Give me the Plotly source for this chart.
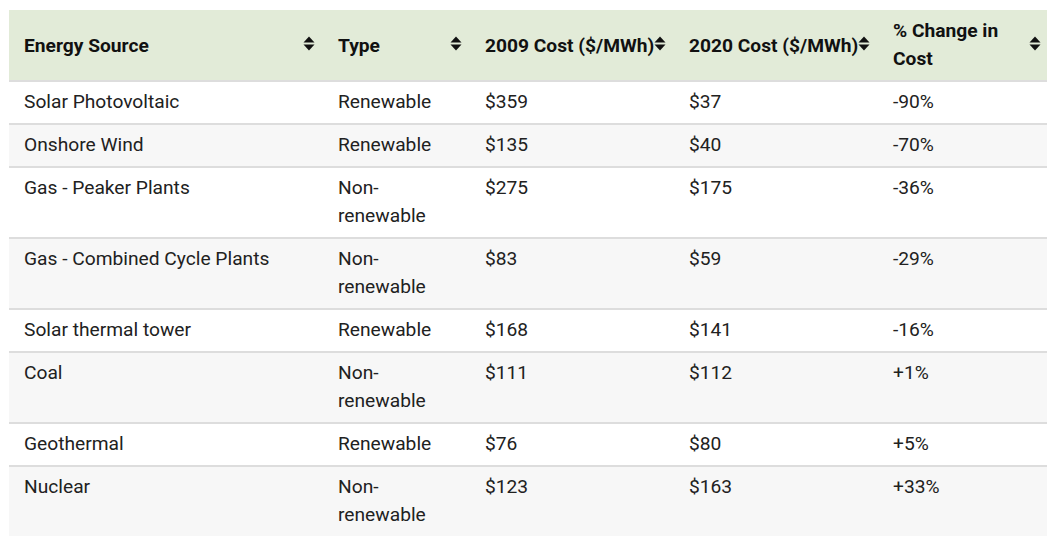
import plotly.graph_objects as go

# ---------------- data ----------------
sources = ["Solar Photovoltaic", "Onshore Wind", "Gas - Peaker Plants",
           "Gas - Combined Cycle Plants", "Solar thermal tower", "Coal",
           "Geothermal", "Nuclear"]
types = ["Renewable", "Renewable", "Non-renewable", "Non-renewable",
         "Renewable", "Non-renewable", "Renewable", "Non-renewable"]
cost_2009 = [359, 135, 275, 83, 168, 111, 76, 123]
cost_2020 = [37, 40, 175, 59, 141, 112, 80, 163]
pct_change = [-90, -70, -36, -29, -16, 1, 5, 33]
col_headers = ["Energy Source", "Type", "2009 Cost ($/MWh)",
               "2020 Cost ($/MWh)", "% Change in Cost"]

# ---------------- style ----------------
# the page body has an 8px margin, so the figure is 8px smaller than the window
W, H = 1048, 542
FONT = "Roboto, 'Open Sans', sans-serif"
TXT_PX = 19.2
LINE_PX = 28
BASE = LINE_PX / 1.3          # plotly line spacing is 1.3em of the base size
ASC, DESC = 0.9277, 0.2441    # Roboto ascent / descent (em)
HEADER_BG = "#e2ebd8"
ROW_BG = ["#ffffff", "#f7f7f7"]
RULE = "#dddddd"
TEXT = "#212121"
HEAD_TEXT = "#111111"
CLEAR = "rgba(0,0,0,0)"
COL_W = [314, 147, 204, 204, 171]
LEFT, TOP = 0, 2
PAD = 16                      # reference cell padding
CELL_PAD = 8                  # plotly internal cell padding
HEADER_H = 71
ROW_H = 43
DOUBLE_H = 71
SPACER_PX = (DOUBLE_H - 2 * CELL_PAD - ASC * TXT_PX - LINE_PX) / DESC
NBSP = "\u00a0"

edges = [LEFT]
for w in COL_W:
    edges.append(edges[-1] + w)
RIGHT = edges[-1]


def wrap_type(t):
    return t.replace("Non-", "Non-<br>")


def wrap_header(h):
    return h.replace(" in Cost", " in<br>Cost")


def fmt(text, bold=False, spacer=False):
    lines = text.split("<br>")
    parts = []
    for ln in lines:
        s = f"<b>{ln}</b>" if bold else ln
        parts.append(f'<span style="font-size:{TXT_PX}px">{s}</span>')
    html = "<br>".join(parts)
    if len(lines) > 1:
        if spacer:
            html += f'<span style="font-size:{SPACER_PX:.2f}px">{NBSP}</span>'
    else:
        html += "<br>"        # explicit break: keeps plotly from re-wrapping the markup
    return html


def blank_like(text):
    """Invisible placeholder with the same number of lines (drives row height)."""
    lines = text.split("<br>")
    if len(lines) == 1:
        return ""
    return fmt("<br>".join(NBSP for _ in lines), spacer=True)


n = len(sources)
type_disp = [wrap_type(t) for t in types]
row_fill = [ROW_BG[i % 2] for i in range(n)]

# background table: fills + horizontal rules
t_bg = go.Table(
    domain=dict(x=[LEFT / W, RIGHT / W], y=[0, 1 - (TOP - 1) / H]),
    columnwidth=[1],
    header=dict(values=[""], fill_color=HEADER_BG,
                line=dict(color=RULE, width=2), height=HEADER_H + 1,
                font=dict(family=FONT, size=BASE, color=CLEAR)),
    cells=dict(values=[[blank_like(t) for t in type_disp]], align="left",
               fill_color=[row_fill], line=dict(color=RULE, width=2),
               height=ROW_H, font=dict(family=FONT, size=BASE, color=CLEAR)),
)

# foreground text table
fg_edges = [e + PAD - CELL_PAD for e in edges[:-1]] + [RIGHT]
fg_w = [fg_edges[i + 1] - fg_edges[i] for i in range(len(COL_W))]
SHIFT = 1

cells_vals = [
    [fmt(s) for s in sources],
    [fmt(t, spacer=True) for t in type_disp],
    [fmt(f"${v}") for v in cost_2009],
    [fmt(f"${v}") for v in cost_2020],
    [fmt(f"{v:+d}%" if v > 0 else f"{v}%") for v in pct_change],
]

t_fg = go.Table(
    domain=dict(x=[fg_edges[0] / W, RIGHT / W], y=[0, 1 - (TOP + SHIFT) / H]),
    columnwidth=fg_w,
    header=dict(values=["", "", "", "", fmt(wrap_header(col_headers[4]), bold=True)],
                fill_color=CLEAR, line=dict(color=CLEAR, width=0),
                height=HEADER_H, align="left",
                font=dict(family=FONT, size=BASE, color=HEAD_TEXT)),
    cells=dict(values=cells_vals, fill_color=CLEAR,
               line=dict(color=CLEAR, width=0), height=ROW_H, align="left",
               font=dict(family=FONT, size=BASE, color=TEXT)),
)

# single-line header labels, vertically centred in the header band
HDR1_OFF = 16
t_hdr = go.Table(
    domain=dict(x=[fg_edges[0] / W, RIGHT / W], y=[0, 1 - (TOP + HDR1_OFF) / H]),
    columnwidth=fg_w,
    header=dict(values=[fmt(h, bold=True) for h in col_headers[:4]] + [""],
                fill_color=CLEAR, line=dict(color=CLEAR, width=0),
                height=44, align="left",
                font=dict(family=FONT, size=BASE, color=HEAD_TEXT)),
    cells=dict(values=[[] for _ in col_headers], fill_color=CLEAR,
               line=dict(color=CLEAR, width=0), height=1),
)

fig = go.Figure([t_bg, t_fg, t_hdr])


def px(x, y):
    return f"{x / W:.5f},{1 - y / H:.5f}"


shapes = []
cy = TOP + HEADER_H / 2 - 2
for e in edges[1:]:
    cx = e - 13
    up = f"M{px(cx - 5.5, cy - 1)} L{px(cx + 5.5, cy - 1)} L{px(cx, cy - 7)} Z"
    dn = f"M{px(cx - 5.5, cy + 1)} L{px(cx + 5.5, cy + 1)} L{px(cx, cy + 7)} Z"
    for p in (up, dn):
        shapes.append(dict(type="path", path=p, xref="paper", yref="paper",
                           fillcolor=HEAD_TEXT, line=dict(width=0), layer="above"))

# hide outer rules (reference only has row separators)
body_bottom = TOP + HEADER_H + sum(DOUBLE_H if "<br>" in t else ROW_H for t in type_disp)
masks = [
    (0, LEFT + 1, 0, H),                 # left edge
    (RIGHT - 1, W, 0, H),                # right edge
    (0, W, 0, TOP),                      # top edge of header
    (0, W, body_bottom - 1, H),          # bottom edge
]
for x0, x1, y0, y1 in masks:
    shapes.append(dict(type="rect", xref="paper", yref="paper",
                       x0=x0 / W, x1=x1 / W, y0=1 - y1 / H, y1=1 - y0 / H,
                       fillcolor="white", line=dict(width=0), layer="above"))

fig.update_layout(width=W, height=H, margin=dict(l=0, r=0, t=0, b=0),
                  paper_bgcolor="white", plot_bgcolor="white", shapes=shapes)

fig.write_html("out.html")
